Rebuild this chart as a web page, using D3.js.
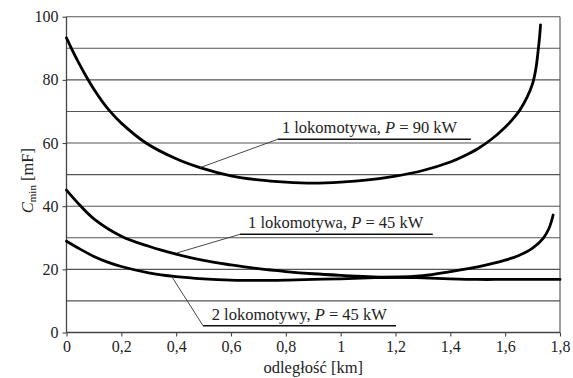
<!DOCTYPE html>
<html>
<head>
<meta charset="utf-8">
<script src="https://cdn.jsdelivr.net/npm/d3@7"></script>
<style>
  html, body { margin: 0; padding: 0; background: #fff; }
  svg { display: block; }
  svg text { font-family: 'Liberation Serif', 'DejaVu Serif', serif !important; fill: #222; }
</style>
</head>
<body>
<svg id="chart" width="573" height="378"></svg>
<script>
// ---- data ----
const xTicks = [0, 0.2, 0.4, 0.6, 0.8, 1, 1.2, 1.4, 1.6, 1.8];
const xTickLabels = ["0", "0,2", "0,4", "0,6", "0,8", "1", "1,2", "1,4", "1,6", "1,8"];
const yTicks = [0, 20, 40, 60, 80, 100];
const yGrid = [10, 20, 30, 40, 50, 60, 70, 80, 90, 100];

const dist90 = [0, 0.025, 0.05, 0.071, 0.1, 0.13, 0.159, 0.2, 0.29, 0.4, 0.487, 0.6, 0.7, 0.8, 0.9, 1.0, 1.1, 1.2, 1.3, 1.4, 1.45, 1.5, 1.55, 1.6, 1.63, 1.654, 1.68, 1.7, 1.712, 1.72, 1.726, 1.729];
const c90 = [93.3, 88.7, 84.5, 81.2, 77.0, 73.2, 70.0, 66.3, 60.0, 55.0, 52.2, 49.6, 48.3, 47.6, 47.3, 47.6, 48.3, 49.5, 51.3, 54.0, 55.9, 58.2, 61.2, 65.0, 67.8, 70.5, 74.5, 78.8, 83.5, 89.0, 94.0, 97.4];

const dist45a = [0, 0.05, 0.1, 0.2, 0.3, 0.4, 0.5, 0.6, 0.7, 0.8, 0.9, 1.0, 1.1, 1.2, 1.3, 1.4, 1.5, 1.6, 1.65, 1.7, 1.74, 1.76, 1.775];
const c45a = [45.1, 40.2, 36.0, 30.5, 27.3, 24.8, 22.8, 21.4, 20.2, 19.3, 18.6, 18.1, 17.7, 17.5, 18.0, 19.3, 20.8, 22.9, 24.4, 26.7, 30.0, 33.0, 37.2];

const dist45b = [0, 0.05, 0.1, 0.15, 0.2, 0.3, 0.4, 0.5, 0.6, 0.7, 0.8, 0.9, 1.0, 1.1, 1.2, 1.3, 1.4, 1.5, 1.6, 1.8];
const c45b = [28.9, 26.4, 24.1, 22.3, 20.9, 18.9, 17.7, 17.0, 16.6, 16.5, 16.6, 16.8, 17.0, 17.3, 17.5, 17.3, 17.0, 16.8, 16.8, 16.8];

const labels = [
  { pre: "1 lokomotywa, ", post: " = 90 kW", lineX1: 0.771, lineX2: 1.475, lineY: 61.2, tipX: 0.487, tipY: 52.2, dx: 4, dy: -6.3 },
  { pre: "1 lokomotywa, ", post: " = 45 kW", lineX1: 0.633, lineX2: 1.336, lineY: 31.1, tipX: 0.403, tipY: 25.2, dx: 8, dy: -6 },
  { pre: "2 lokomotywy, ", post: " = 45 kW", lineX1: 0.498, lineX2: 1.202, lineY: 2.15, tipX: 0.384, tipY: 17.7, dx: 8.7, dy: -5.7 }
];

// ---- layout ----
const W = 573, H = 378;
const m = { left: 66.5, right: 13, top: 16.7, bottom: 45.5 };
const FONT = "'Liberation Serif', 'DejaVu Serif', serif";
const svg = d3.select("#chart");
const x = d3.scaleLinear().domain([0, 1.8]).range([m.left, W - m.right]);
const y = d3.scaleLinear().domain([0, 100]).range([H - m.bottom, m.top]);

// grid lines
svg.append("g").selectAll("line").data(yGrid).join("line")
  .attr("x1", x(0)).attr("x2", x(1.8))
  .attr("y1", d => y(d)).attr("y2", d => y(d))
  .attr("stroke", "#555").attr("stroke-width", 1.1);

// right border
svg.append("line").attr("x1", x(1.8)).attr("x2", x(1.8)).attr("y1", y(0)).attr("y2", y(100))
  .attr("stroke", "#555").attr("stroke-width", 1.1);

// axes
const xAxis = d3.axisBottom(x).tickValues(xTicks).tickFormat((d, i) => xTickLabels[i]).tickSize(4).tickPadding(4);
const gx = svg.append("g").attr("transform", `translate(0,${y(0)})`).call(xAxis);
const yAxis = d3.axisLeft(y).tickValues(yTicks).tickFormat(d3.format("d")).tickSize(4).tickPadding(4);
const gy = svg.append("g").attr("transform", `translate(${x(0)},0)`).call(yAxis);
[gx, gy].forEach(g => {
  g.attr("font-family", FONT).attr("font-size", 16);
  g.select(".domain").attr("stroke", "#444").attr("stroke-width", 1.3);
  g.selectAll(".tick line").attr("stroke", "#444").attr("stroke-width", 1.1);
  g.selectAll(".tick text").style("font-family", FONT).style("font-size", "16px").attr("fill", "#222");
});
gx.select(".domain").attr("d", `M${x(0)},0H${x(1.8)}`);
gy.select(".domain").attr("d", `M0,${y(0)}V${y(100)}`);

// curves
const line = d3.line().x(d => x(d[0])).y(d => y(d[1])).curve(d3.curveCatmullRom.alpha(0.5));
const series = [
  d3.zip(dist90, c90),
  d3.zip(dist45a, c45a),
  d3.zip(dist45b, c45b)
];
svg.append("g").selectAll("path").data(series).join("path")
  .attr("d", line)
  .attr("fill", "none").attr("stroke", "#000").attr("stroke-width", 2.8)
  .attr("stroke-linecap", "round").attr("stroke-linejoin", "round");

// annotations
const ag = svg.append("g");
labels.forEach(l => {
  ag.append("line").attr("x1", x(l.tipX)).attr("y1", y(l.tipY)).attr("x2", x(l.lineX1)).attr("y2", y(l.lineY))
    .attr("stroke", "#333").attr("stroke-width", 0.9);
  ag.append("line").attr("x1", x(l.lineX1)).attr("y1", y(l.lineY)).attr("x2", x(l.lineX2)).attr("y2", y(l.lineY))
    .attr("stroke", "#111").attr("stroke-width", 1.6);
  const t = ag.append("text").attr("x", x(l.lineX1) + l.dx).attr("y", y(l.lineY) + l.dy)
    .style("font-family", FONT).style("font-size", "16.5px");
  t.append("tspan").text(l.pre);
  t.append("tspan").attr("font-style", "italic").text("P");
  t.append("tspan").text(l.post);
});

// axis titles
svg.append("text").attr("x", (x(0) + x(1.8)) / 2).attr("y", 373).attr("text-anchor", "middle")
  .style("font-family", FONT).style("font-size", "16.5px").text("odległość [km]");
const yt = svg.append("text").attr("transform", `translate(33,${(y(0) + y(100)) / 2 + 6}) rotate(-90)`)
  .attr("text-anchor", "middle").style("font-family", FONT).style("font-size", "16.5px");
yt.append("tspan").attr("font-style", "italic").text("C");
yt.append("tspan").style("font-size", "11px").attr("dy", 3).text("min");
yt.append("tspan").attr("dy", -3).text(" [mF]");
</script>
</body>
</html>
